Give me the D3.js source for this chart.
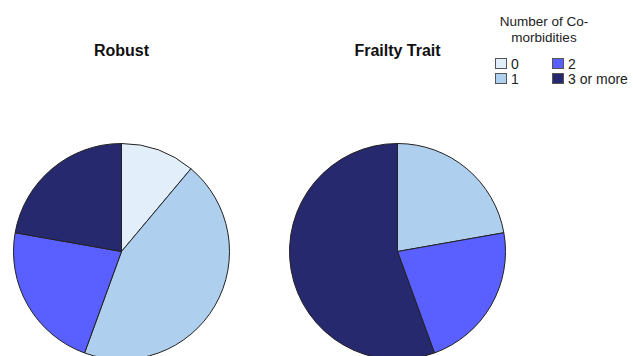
<!DOCTYPE html>
<html>
<head>
<meta charset="utf-8">
<script src="https://cdn.jsdelivr.net/npm/d3@7"></script>
<style>
  html, body { margin: 0; padding: 0; background: #fff; }
  svg { display: block; font-family: Arial, "Liberation Sans", sans-serif; }
</style>
</head>
<body>
<svg id="chart" width="633" height="356"></svg>
<script>
// Comorbidity categories and counts per group
const categories = ["0", "1", "2", "3 or more"];
const groups = ["Robust", "Frailty Trait"];
const robustValues = [1, 4, 2, 2];
const frailtyValues = [0, 2, 2, 5];
const colors = ["#e2effa", "#aed0ee", "#5a5fff", "#27296e"];

const svg = d3.select("#chart");
const color = d3.scaleOrdinal().domain(categories).range(colors);

const radius = 108;
const centersX = d3.scalePoint().domain(groups).range([121.5, 397.5]);
const centerY = 251.5;

const pie = d3.pie().sort(null).value(d => d.value);
const arc = d3.arc().innerRadius(0).outerRadius(radius);

const series = [robustValues, frailtyValues];

groups.forEach((g, gi) => {
  const cx = centersX(g);
  const data = categories.map((c, i) => ({ cat: c, value: series[gi][i] }));
  const gPie = svg.append("g").attr("transform", `translate(${cx},${centerY})`);
  gPie.selectAll("path")
    .data(pie(data).filter(d => d.data.value > 0))
    .join("path")
    .attr("d", arc)
    .attr("fill", d => color(d.data.cat))
    .attr("stroke", "#222")
    .attr("stroke-width", 1)
    .attr("stroke-linejoin", "round");

  svg.append("text")
    .attr("x", cx)
    .attr("y", 56)
    .attr("text-anchor", "middle")
    .attr("font-size", 16)
    .attr("font-weight", "bold")
    .attr("fill", "#111")
    .text(g);
});

// Legend
const legend = svg.append("g");
legend.append("text")
  .attr("x", 544).attr("y", 26)
  .attr("text-anchor", "middle")
  .attr("font-size", 13.5).attr("fill", "#222")
  .selectAll("tspan")
  .data(["Number of Co-", "morbidities"])
  .join("tspan")
  .attr("x", 544)
  .attr("dy", (d, i) => i === 0 ? 0 : 15.5)
  .text(d => d);

const legX = d3.scaleOrdinal().domain(categories).range([495, 495, 552, 552]);
const legY = d3.scaleOrdinal().domain(categories).range([58, 73, 58, 73]);

const items = legend.selectAll("g.item")
  .data(categories)
  .join("g")
  .attr("class", "item")
  .attr("transform", d => `translate(${legX(d)},${legY(d)})`);
items.append("rect")
  .attr("x", 0.5).attr("y", 0.5)
  .attr("width", 11).attr("height", 10)
  .attr("fill", d => color(d))
  .attr("stroke", "#555").attr("stroke-width", 1);
items.append("text")
  .attr("x", 16).attr("y", 10.5)
  .attr("font-size", 14).attr("fill", "#222")
  .text(d => d);
</script>
</body>
</html>
